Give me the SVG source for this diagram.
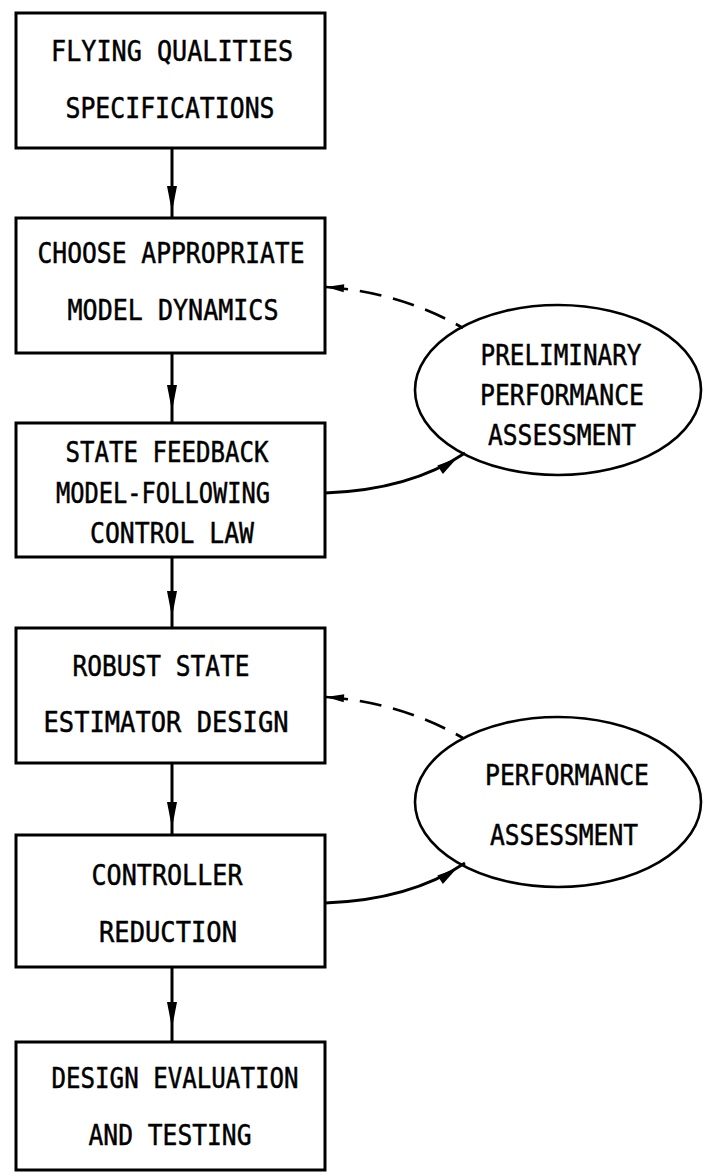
<svg xmlns="http://www.w3.org/2000/svg" width="703" height="1174" viewBox="0 0 703 1174">
<style>
.box{fill:#fff;stroke:#000;stroke-width:3}
.ell{fill:none;stroke:#000;stroke-width:2.6}
.t{font-family:"DejaVu Sans Mono","Liberation Mono",monospace;font-size:28px;fill:#000;stroke:#000;stroke-width:0.5;text-anchor:middle}
.ln{fill:none;stroke:#000;stroke-width:3}
.dash{fill:none;stroke:#000;stroke-width:2.6;stroke-dasharray:22 12}
.cv{fill:none;stroke:#000;stroke-width:2.8}
</style>
<defs>
<marker id="dart" markerUnits="userSpaceOnUse" markerWidth="40" markerHeight="14" viewBox="-30 -7 40 14" refX="0" refY="0" orient="auto" overflow="visible">
<path d="M0,0 L-26,-5 L-26,5 Z" fill="#000"/>
</marker>
<marker id="dartS" markerUnits="userSpaceOnUse" markerWidth="30" markerHeight="12" viewBox="-22 -6 30 12" refX="0" refY="0" orient="auto-start-reverse" overflow="visible">
<path d="M0,0 L-18,-4 L-18,4 Z" fill="#000"/>
</marker>
<marker id="dartE" markerUnits="userSpaceOnUse" markerWidth="40" markerHeight="14" viewBox="-30 -7 40 14" refX="10" refY="0" orient="auto" overflow="visible">
<path d="M0,0 L-20,-5 L-20,5 Z" fill="#000"/>
</marker>
</defs>
<g id="connectors">
<path class="ln" d="M172,148 L172,212 L172,218" marker-mid="url(#dart)"/>
<path class="ln" d="M172,353 L172,411 L172,423" marker-mid="url(#dart)"/>
<path class="ln" d="M172,557 L172,617 L172,628" marker-mid="url(#dart)"/>
<path class="ln" d="M172,763 L172,828 L172,835" marker-mid="url(#dart)"/>
<path class="ln" d="M172,967 L172,1028 L172,1042" marker-mid="url(#dart)"/>
<path class="dash" d="M326,287 Q400,292 463,328" marker-start="url(#dartS)"/>
<path class="cv" d="M325,493 Q410,490 465,453" marker-end="url(#dartE)"/>
<path class="dash" d="M326,697 Q400,702 463,738" marker-start="url(#dartS)"/>
<path class="cv" d="M325,903 Q410,900 465,863" marker-end="url(#dartE)"/>
</g>
<g id="n1"><rect class="box" x="16" y="13" width="309" height="135"/>
<text class="t" x="172" y="61" textLength="242" lengthAdjust="spacingAndGlyphs">FLYING QUALITIES</text>
<text class="t" x="170" y="118" textLength="209" lengthAdjust="spacingAndGlyphs">SPECIFICATIONS</text></g>
<g id="n2"><rect class="box" x="16" y="218" width="309" height="135"/>
<text class="t" x="171" y="263" textLength="267" lengthAdjust="spacingAndGlyphs">CHOOSE APPROPRIATE</text>
<text class="t" x="173" y="320" textLength="211" lengthAdjust="spacingAndGlyphs">MODEL DYNAMICS</text></g>
<g id="n3"><rect class="box" x="16" y="423" width="309" height="134"/>
<text class="t" x="167" y="462" textLength="203" lengthAdjust="spacingAndGlyphs">STATE FEEDBACK</text>
<text class="t" x="163" y="503" textLength="214" lengthAdjust="spacingAndGlyphs">MODEL-FOLLOWING</text>
<text class="t" x="172" y="543" textLength="164" lengthAdjust="spacingAndGlyphs">CONTROL LAW</text></g>
<g id="n4"><rect class="box" x="16" y="628" width="309" height="135"/>
<text class="t" x="161" y="676" textLength="177" lengthAdjust="spacingAndGlyphs">ROBUST STATE</text>
<text class="t" x="166" y="732" textLength="245" lengthAdjust="spacingAndGlyphs">ESTIMATOR DESIGN</text></g>
<g id="n5"><rect class="box" x="16" y="835" width="309" height="132"/>
<text class="t" x="167" y="885" textLength="151" lengthAdjust="spacingAndGlyphs">CONTROLLER</text>
<text class="t" x="168" y="942" textLength="138" lengthAdjust="spacingAndGlyphs">REDUCTION</text></g>
<g id="n6"><rect class="box" x="16" y="1042" width="309" height="128"/>
<text class="t" x="175" y="1088" textLength="247" lengthAdjust="spacingAndGlyphs">DESIGN EVALUATION</text>
<text class="t" x="170" y="1145" textLength="163" lengthAdjust="spacingAndGlyphs">AND TESTING</text></g>
<g id="e1"><ellipse class="ell" cx="558" cy="390" rx="143" ry="85"/>
<text class="t" x="561" y="365" textLength="161" lengthAdjust="spacingAndGlyphs">PRELIMINARY</text>
<text class="t" x="562" y="405" textLength="164" lengthAdjust="spacingAndGlyphs">PERFORMANCE</text>
<text class="t" x="562" y="445" textLength="148" lengthAdjust="spacingAndGlyphs">ASSESSMENT</text></g>
<g id="e2"><ellipse class="ell" cx="558" cy="802" rx="143" ry="85"/>
<text class="t" x="567" y="785" textLength="164" lengthAdjust="spacingAndGlyphs">PERFORMANCE</text>
<text class="t" x="564" y="845" textLength="148" lengthAdjust="spacingAndGlyphs">ASSESSMENT</text></g>
</svg>
